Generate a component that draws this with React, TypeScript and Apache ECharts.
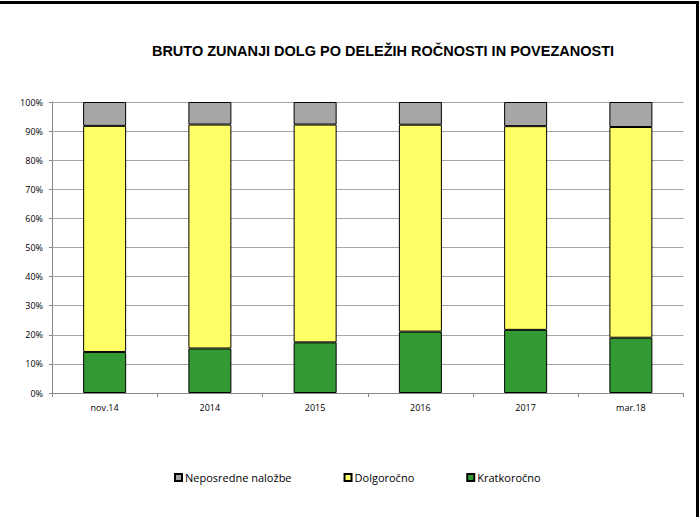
import React, { useEffect, useRef } from "react";
import * as echarts from "echarts";

const categories = ["nov.14", "2014", "2015", "2016", "2017", "mar.18"];
const kratkorocno = [14.1, 15.3, 17.4, 21.1, 21.7, 19.0];
const dolgorocno = [77.7, 76.95, 74.85, 71.1, 70.0, 72.4];
const neposredne = [8.2, 7.75, 7.75, 7.8, 8.3, 8.6];
const yTicks = { min: 0, max: 100, interval: 10 };

export default function App() {
  const ref = useRef<HTMLDivElement>(null);
  useEffect(() => {
    if (!ref.current) return;
    const chart = echarts.init(ref.current, null, { renderer: "svg" });
    const font = "'Open Sans', 'Liberation Sans', sans-serif";
    chart.setOption({
      animation: false,
      backgroundColor: "#ffffff",
      title: {
        text: "BRUTO ZUNANJI DOLG PO DELEŽIH ROČNOSTI IN POVEZANOSTI",
        left: 378,
        textAlign: "center",
        top: 38,
        textStyle: {
          fontFamily: "'Liberation Sans', Arial, sans-serif",
          fontWeight: "bold",
          fontSize: 14.5,
          color: "#000",
        },
      },
      graphic: [
        { type: "rect", shape: { x: 0, y: 1, width: 699, height: 3 }, style: { fill: "#000" } },
        { type: "rect", shape: { x: 696, y: 1, width: 3, height: 516 }, style: { fill: "#000" } },
      ],
      legend: {
        data: ["Neposredne naložbe", "Dolgoročno", "Kratkoročno"],
        left: 169,
        top: 467,
        itemWidth: 7,
        itemHeight: 7,
        itemGap: 52,
        icon: "rect",
        textStyle: { fontFamily: font, fontSize: 11, color: "#000", padding: [0, 0, 0, -2] },
      },
      grid: { left: 52, right: 15.5, top: 102, bottom: 124, containLabel: false },
      xAxis: {
        type: "category",
        data: categories,
        axisLine: { lineStyle: { color: "#888", width: 1 } },
        axisTick: { show: true, length: 4, lineStyle: { color: "#888" } },
        axisLabel: { fontFamily: font, fontSize: 9, color: "#000", margin: 10 },
      },
      yAxis: {
        type: "value",
        min: yTicks.min,
        max: yTicks.max,
        interval: yTicks.interval,
        axisLine: { show: true, lineStyle: { color: "#888", width: 1 } },
        axisTick: { show: true, length: 3, lineStyle: { color: "#888" } },
        axisLabel: { formatter: "{value}%", fontFamily: font, fontSize: 9, color: "#000", margin: 9 },
        splitLine: { lineStyle: { color: "#a6a6a6", width: 1 } },
      },
      series: [
        {
          name: "Kratkoročno",
          type: "bar",
          stack: "total",
          data: kratkorocno,
          barWidth: 43,
          itemStyle: { color: "#339933", borderColor: "#000", borderWidth: 1 },
        },
        {
          name: "Dolgoročno",
          type: "bar",
          stack: "total",
          data: dolgorocno,
          barWidth: 43,
          itemStyle: { color: "#ffff66", borderColor: "#000", borderWidth: 1 },
        },
        {
          name: "Neposredne naložbe",
          type: "bar",
          stack: "total",
          data: neposredne,
          barWidth: 43,
          itemStyle: { color: "#a6a6a6", borderColor: "#000", borderWidth: 1 },
        },
      ],
    });
    return () => chart.dispose();
  }, []);
  return (
    <div
      ref={ref}
      style={{ position: "fixed", left: 0, top: 0, width: 699, height: 517 }}
    />
  );
}
